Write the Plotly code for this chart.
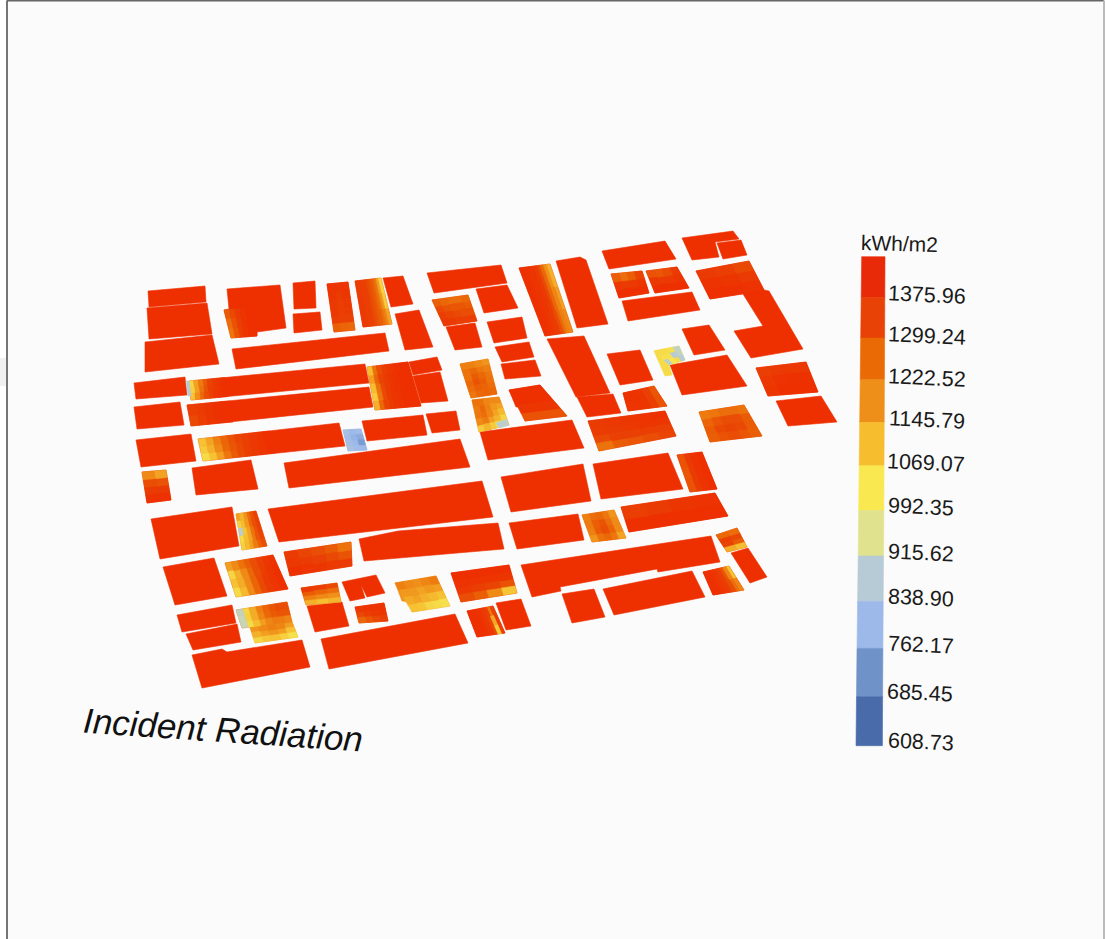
import plotly.graph_objects as go

# Legend
LEGEND_VALUES = [1452.68, 1375.96, 1299.24, 1222.52, 1145.79, 1069.07, 992.35, 915.62, 838.90, 762.17, 685.45, 608.73]
TICK_LABELS = ["1375.96", "1299.24", "1222.52", "1145.79", "1069.07", "992.35", "915.62", "838.90", "762.17", "685.45", "608.73"]
TICK_CX = [926.5, 926.5, 926.5, 927, 926, 921, 921, 921, 921, 920, 921]
TICK_CY = [294.5, 335.5, 377.5, 419.5, 462.5, 506.5, 552.5, 597.5, 644.5, 692.5, 741.5]
BAND_COLORS = ["#e92a08", "#e84207", "#ea6a05", "#ee8f1a", "#f6bd2f", "#f9e850", "#e0e28e", "#b6cbd5", "#9db9ea", "#6f92c8", "#496ba9"]
BAND_Y = [256.7, 297.4, 338, 379.8, 422.6, 465.7, 510.5, 556, 601.6, 648.4, 696.7, 745.7]
BAND_LEFT = [861.7, 861.2, 860.7, 860.2, 859.7, 859.2, 858.7, 858.2, 857.6, 857.0, 856.5, 856.0]
BAND_RIGHT = [885, 884.8, 884.6, 884.4, 884.2, 884.0, 883.8, 883.5, 883.2, 882.9, 882.6, 882.4]

# Colour anchors for a roof value (brightest red first)
COLOR_VALUES = [1400, 1330, 1260, 1190, 1110, 1040, 980, 900, 830, 760, 680, 610]
COLOR_STOPS = ["#ee2f00", "#ea4005", "#ea5f05", "#ee8012", "#f3a825", "#f6c535", "#f6e552", "#e0e28e", "#b6cbd5", "#9db9ea", "#6f92c8", "#496ba9"]

HOT = 1400
# Roof outlines: outline points, mean radiation
ROOFS = {
 "A": ([(148,291),(205,286),(206,302),(149,307)], HOT),
 "B": ([(147,308),(207,303),(212,334),(149,339)], HOT),
 "C": ([(145,342),(212,335),(219,364),(145,372)], HOT),
 "D": ([(227,289),(280,285),(286,328),(257,332),(257,336),(231,338),(224,310),(229,309)], HOT),
 "E": ([(293,283),(315,281),(316,308),(294,309)], HOT),
 "F": ([(293,314),(320,312),(322,330),(294,333)], HOT),
 "G": ([(327,284),(348,282),(355,330),(334,332)], 1370),
 "H": ([(355,281),(381,278),(392,324),(363,327)], 1350),
 "I": ([(383,278),(403,276),(413,304),(391,307)], HOT),
 "J": ([(395,314),(419,310),(433,347),(405,350)], HOT),
 "K": ([(232,349),(385,333),(389,351),(236,369)], HOT),
 "L": ([(134,383),(185,377),(187,395),(136,399)], HOT),
 "M": ([(189,381),(365,364),(369,383),(191,400)], HOT),
 "N": ([(187,405),(369,387),(373,407),(191,426)], HOT),
 "O": ([(367,367),(408,362),(421,406),(375,410)], HOT),
 "P": ([(409,362),(437,357),(442,370),(413,375)], HOT),
 "Q": ([(413,376),(440,372),(448,401),(421,403)], HOT),
 "R": ([(134,407),(180,402),(184,425),(137,429)], HOT),
 "S": ([(198,439),(339,423),(345,446),(203,461)], HOT),
 "T": ([(343,430),(361,429),(367,450),(348,451)], 770),
 "U": ([(362,421),(423,415),(427,435),(367,441)], HOT),
 "V": ([(426,414),(456,411),(460,430),(432,433)], HOT),
 "W": ([(136,440),(191,434),(196,461),(141,467)], HOT),
 "X": ([(284,463),(460,439),(470,467),(289,488)], HOT),
 "Y": ([(192,468),(251,460),(258,489),(196,495)], HOT),
 "Z": ([(142,472),(166,470),(171,500),(147,503)], 1370),
 "a": ([(427,273),(501,265),(507,283),(434,293)], HOT),
 "b": ([(476,289),(507,285),(518,308),(484,313)], HOT),
 "c": ([(432,300),(468,295),(477,321),(444,326)], 1300),
 "d": ([(446,327),(475,323),(482,347),(455,350)], HOT),
 "e": ([(487,322),(522,317),(527,338),(494,343)], HOT),
 "f": ([(495,347),(529,342),(534,357),(502,362)], HOT),
 "g": ([(501,364),(535,360),(541,376),(505,379)], HOT),
 "h": ([(460,364),(488,359),(497,394),(471,398)], 1220),
 "i": ([(472,400),(499,397),(509,425),(479,432)], 1180),
 "j": ([(519,268),(550,264),(573,332),(545,336)], 1370),
 "k": ([(556,261),(580,257),(586,260),(608,324),(577,328)], HOT),
 "l": ([(602,251),(665,241),(676,259),(609,269)], HOT),
 "m": ([(611,274),(642,271),(649,293),(619,298)], HOT),
 "n": ([(646,271),(677,267),(689,288),(655,293)], HOT),
 "o": ([(622,301),(692,292),(700,310),(628,321)], HOT),
 "p": ([(682,238),(733,231),(739,239),(715,242),(719,257),(692,260)], HOT),
 "q": ([(717,243),(741,240),(747,255),(723,259)], HOT),
 "r": ([(696,271),(749,261),(764,290),(769,291),(803,349),(751,358),(734,331),(763,326),(743,294),(710,299)], HOT),
 "s": ([(547,339),(584,336),(610,393),(576,397)], HOT),
 "t": ([(577,397),(613,394),(621,413),(587,417)], HOT),
 "u": ([(607,354),(640,350),(653,380),(620,385)], HOT),
 "v": ([(623,393),(654,386),(667,406),(628,411)], HOT),
 "w": ([(654,351),(679,346),(685,360),(669,365),(672,375),(665,376)], 1000),
 "x": ([(682,329),(709,325),(725,350),(694,355)], HOT),
 "y": ([(670,365),(727,355),(747,386),(682,395)], HOT),
 "z": ([(756,368),(806,362),(818,392),(768,396)], HOT),
 "aa": ([(776,401),(821,396),(837,422),(788,426)], HOT),
 "ab": ([(699,412),(744,405),(762,436),(710,442)], 1280),
 "ac": ([(509,390),(540,385),(567,416),(525,421),(520,407),(516,407)], HOT),
 "ad": ([(480,432),(572,420),(584,448),(488,460)], HOT),
 "ae": ([(588,421),(665,411),(676,436),(599,451)], 1370),
 "af": ([(593,464),(668,453),(683,489),(601,499)], HOT),
 "ag": ([(677,455),(702,452),(717,489),(690,492)], HOT),
 "ah": ([(501,477),(583,464),(591,501),(511,512)], HOT),
 "ai": ([(509,523),(578,514),(584,540),(517,549)], HOT),
 "aj": ([(582,515),(614,510),(626,538),(592,542)], 1250),
 "ak": ([(621,507),(715,493),(728,516),(629,532)], HOT),
 "al": ([(521,565),(711,536),(720,562),(658,572),(657,569),(560,587),(561,591),(532,597)], HOT),
 "am": ([(451,573),(509,565),(517,593),(461,602)], HOT),
 "an": ([(562,594),(594,589),(605,617),(572,623)], HOT),
 "ao": ([(603,589),(692,571),(705,597),(614,615)], HOT),
 "ap": ([(703,572),(729,566),(744,590),(713,595)], HOT),
 "aq": ([(716,535),(737,528),(747,547),(727,552)], 1300),
 "ar": ([(731,553),(748,548),(767,577),(750,583)], HOT),
 "as": ([(467,611),(493,606),(505,633),(477,637)], HOT),
 "at": ([(496,603),(521,599),(531,626),(506,630)], HOT),
 "au": ([(151,519),(232,507),(239,546),(160,559)], HOT),
 "av": ([(236,514),(256,511),(267,546),(242,550)], 1200),
 "aw": ([(268,509),(482,481),(493,517),(279,542)], HOT),
 "ax": ([(359,539),(398,531),(498,523),(504,549),(364,561)], HOT),
 "ay": ([(284,552),(351,542),(352,566),(290,576)], 1350),
 "az": ([(163,567),(214,558),(227,596),(175,605)], HOT),
 "ba": ([(225,563),(273,555),(288,589),(236,597)], 1300),
 "bb": ([(177,615),(232,605),(236,623),(182,632)], HOT),
 "bc": ([(186,634),(237,624),(241,642),(193,650)], HOT),
 "bd": ([(236,610),(287,602),(292,622),(242,628)], 1250),
 "be": ([(250,627),(292,622),(298,637),(255,643)], 1120),
 "bf": ([(192,655),(222,649),(227,652),(302,640),(310,667),(202,688)], HOT),
 "bg": ([(301,588),(337,583),(341,602),(306,605)], 1300),
 "bh": ([(307,606),(342,602),(349,626),(315,632)], HOT),
 "bi": ([(342,582),(376,575),(385,593),(367,597),(361,585),(365,598),(350,601)], HOT),
 "bj": ([(355,607),(384,603),(388,621),(359,623)], 1340),
 "bk": ([(395,583),(436,576),(450,606),(412,612),(409,602),(402,601)], 1150),
 "bn": ([(321,639),(455,614),(468,643),(329,669)], HOT),
}

# Analysis grids over a part of a roof: top-left, top-right, bottom-right, bottom-left, rows of values
GRIDS = [
 ([(224,310),(256,307),(257,336),(231,338)], [[1270,1310,1350,1380,1395,1400],[1230,1290,1340,1375,1395,1400],[1210,1280,1340,1375,1395,1400]]),
 ([(327,284),(348,282),(355,330),(334,332)], [[1380,1370,1380],[1370,1350,1370],[1360,1340,1360],[1360,1340,1350],[1340,1330,1330],[1260,1250,1240]]),
 ([(355,281),(381,278),(392,324),(363,327)], [[1340,1340,1340,1330,1310,1290,1260,1220,1130,1010],[1350,1350,1340,1330,1310,1290,1260,1220,1150,1030],[1360,1350,1340,1330,1310,1290,1260,1230,1190,1120]]),
 ([(189,381),(225,377.5),(228,396.5),(191,400)], [[1010,1120,1200,1270,1320,1350,1370,1390],[1020,1130,1220,1290,1330,1360,1380,1395],[1040,1160,1240,1300,1340,1370,1385,1395]]),
 ([(187,405),(230,401),(233,422),(191,426)], [[1330,1350,1370,1390,1400],[1310,1340,1370,1390,1400]]),
 ([(198,439),(270,431),(275,453),(203,461)], [[1050,1120,1190,1250,1290,1320,1340,1360,1380,1395],[1030,1090,1170,1240,1280,1310,1340,1360,1380,1395],[1000,1050,1130,1210,1270,1310,1340,1360,1380,1395]]),
 ([(367,367),(408,362),(421,406),(375,410)], [[1060,1220,1300,1340,1360,1380,1390,1395,1400],[1130,1250,1320,1350,1370,1385,1395,1400,1400],[1060,1220,1310,1350,1370,1385,1395,1400,1400],[1030,1210,1310,1350,1370,1385,1395,1400,1400],[1090,1240,1320,1350,1370,1385,1395,1400,1400]]),
 ([(432,300),(468,295),(477,321),(444,326)], [[1260,1240,1230,1230,1240],[1310,1290,1280,1280,1270],[1340,1320,1310,1300,1300],[1360,1350,1340,1340,1340]]),
 ([(460,364),(488,359),(497,394),(471,398)], [[1190,1190,1170,1150],[1220,1240,1210,1190],[1220,1270,1240,1210],[1240,1290,1260,1220],[1230,1260,1250,1230],[1210,1240,1250,1240]]),
 ([(472,400),(499,397),(509,425),(479,432)], [[1220,1220,1180,1170,1170],[1200,1240,1190,1140,1120],[1210,1230,1180,1120,1070],[1170,1200,1130,1080,1010],[1030,1080,1030,990,850]]),
 ([(519,268),(550,264),(573,332),(545,336)], [[1395,1390,1380,1370,1350,1310,1240,1160,1090],[1395,1390,1380,1370,1350,1310,1240,1180,1130],[1395,1390,1380,1365,1345,1300,1240,1190,1170]]),
 ([(611,274),(642,271),(649,293),(619,298)], [[1260,1230,1260,1320],[1360,1350,1360,1370],[1400,1395,1395,1400]]),
 ([(646,271),(677,267),(689,288),(655,293)], [[1290,1280,1300,1350],[1360,1350,1360,1370],[1400,1395,1395,1400]]),
 ([(696,271),(749,261),(764,290),(710,299)], [[1350,1340,1310],[1385,1370,1350],[1400,1395,1385]]),
 ([(756,368),(806,362),(818,392),(768,396)], [[1340,1350,1360,1360],[1360,1385,1390,1390],[1370,1395,1400,1400]]),
 ([(699,412),(744,405),(762,436),(710,442)], [[1200,1210,1230,1230,1220],[1250,1280,1300,1300,1270],[1270,1310,1320,1310,1270],[1260,1290,1300,1280,1260]]),
 ([(588,421),(665,411),(676,436),(599,451)], [[1350,1360,1370,1380,1390],[1345,1350,1360,1370,1375],[1310,1330,1335,1340,1330],[1220,1270,1280,1300,1320]]),
 ([(509,390),(540,385),(567,416),(525,421)], [[1400],[1400],[1370],[1290]]),
 ([(623,393),(654,386),(667,406),(628,411)], [[1390,1385,1370,1330,1280],[1380,1380,1370,1340,1290]]),
 ([(677,455),(702,452),(717,489),(690,492)], [[1290,1350,1385,1400],[1280,1350,1385,1400],[1290,1350,1385,1400]]),
 ([(582,515),(614,510),(626,538),(592,542)], [[1190,1230,1240,1210,1150],[1200,1260,1290,1230,1170],[1190,1270,1300,1250,1170],[1150,1220,1240,1210,1120]]),
 ([(621,507),(715,493),(728,516),(629,532)], [[1340,1350,1370,1385],[1395,1395,1400,1400]]),
 ([(716,535),(737,528),(747,547),(727,552)], [[1240,1230],[1330,1310],[1320,1270],[1100,1060]]),
 ([(703,572),(729,566),(744,590),(713,595)], [[1395,1390,1375,1360,1330,1280,1180,1050],[1395,1390,1380,1360,1340,1300,1230,1180]]),
 ([(467,611),(493,606),(505,633),(477,637)], [[1400,1400,1390,1380,1360,1330,1210,1320],[1400,1400,1390,1380,1360,1320,1110,1350],[1400,1400,1390,1380,1360,1310,1030,1340]]),
 ([(451,573),(509,565),(517,593),(461,602)], [[1400,1395,1395,1395],[1385,1380,1380,1370],[1360,1340,1320,1290],[1300,1260,1170,1040]]),
 ([(142,472),(166,470),(171,500),(147,503)], [[1170,1120],[1300,1290],[1350,1350],[1390,1390]]),
 ([(236,514),(256,511),(267,546),(242,550)], [[1130,1080,1150,1230,1290,1330],[1020,1060,1140,1240,1300,1340],[840,1040,1120,1220,1290,1330],[1000,1060,1120,1210,1280,1320],[1020,1070,1130,1200,1260,1300]]),
 ([(284,552),(351,542),(352,566),(290,576)], [[1350,1320,1300,1270,1220],[1365,1350,1330,1310,1290],[1395,1380,1370,1355,1350]]),
 ([(225,563),(273,555),(288,589),(236,597)], [[1130,1170,1220,1260,1300,1330,1360,1385],[1010,1090,1170,1240,1300,1340,1370,1395],[1050,1100,1170,1250,1310,1350,1380,1395],[1000,1070,1170,1250,1310,1350,1380,1395]]),
 ([(236,610),(287,602),(292,622),(242,628)], [[850,1010,1100,1190,1250,1280,1300,1300],[860,1020,1100,1180,1240,1270,1280,1280],[860,1000,1060,1130,1180,1200,1200,1180]]),
 ([(250,627),(292,622),(298,637),(255,643)], [[1150,1170,1190,1180,1130],[1090,1130,1150,1130,1050],[1010,1040,1050,1020,990]]),
 ([(301,588),(337,583),(341,602),(306,605)], [[1350,1340,1310],[1270,1250,1230],[1190,1170,1160],[1090,1060,1080]]),
 ([(355,607),(384,603),(388,621),(359,623)], [[1360,1380,1385,1385],[1310,1340,1360,1370],[1240,1280,1310,1330]]),
 ([(395,583),(436,576),(450,606),(412,612)], [[1190,1170,1160,1180,1200],[1140,1140,1120,1140,1130],[1100,1120,1090,1070,1050],[1050,1040,1010,1000,990]]),
 ([(654,351),(679,346),(685,360),(669,365)], [[1000,1000,990,850],[990,990,830,850],[840,980,1000,830]]),
 ([(343,430),(361,429),(367,450),(348,451)], [[790,760,770],[770,750,730],[780,760,700],[790,770,760]]),
 ([(186,381),(189,381),(191,396),(188,396)], [[830],[830]]),
 ([(496,423),(503,421),(509,425),(499,428)], [[840]]),
]

FRAME_X = [7, 7, 1104, 1104]
FRAME_Y = [939, 0.5, 0.5, 939]
UNIT = "kWh/m2"
TITLE = "Incident Radiation"


def hex_rgb(h):
    return tuple(int(h[i:i + 2], 16) for i in (1, 3, 5))


def color_of(v):
    if v >= COLOR_VALUES[0]:
        return COLOR_STOPS[0]
    if v <= COLOR_VALUES[-1]:
        return COLOR_STOPS[-1]
    for i in range(len(COLOR_VALUES) - 1):
        hi, lo = COLOR_VALUES[i], COLOR_VALUES[i + 1]
        if lo <= v <= hi:
            t = (hi - v) / (hi - lo)
            a, b = hex_rgb(COLOR_STOPS[i]), hex_rgb(COLOR_STOPS[i + 1])
            return "#%02x%02x%02x" % tuple(round(a[k] + (b[k] - a[k]) * t) for k in range(3))


def add_poly(fig, xs, ys, color):
    fig.add_trace(go.Scatter(x=xs, y=ys, mode="lines", fill="toself", fillcolor=color,
                             line=dict(color=color, width=0.6), hoverinfo="skip", showlegend=False))


def collect(groups, pts, v):
    c = color_of(v)
    g = groups.setdefault(c, ([], []))
    g[0].extend([p[0] for p in pts] + [pts[0][0], None])
    g[1].extend([p[1] for p in pts] + [pts[0][1], None])


def lerp(a, b, t):
    return (a[0] + (b[0] - a[0]) * t, a[1] + (b[1] - a[1]) * t)


fig = go.Figure()

base = {}
for pts, v in ROOFS.values():
    collect(base, pts, v)
for c, (xs, ys) in base.items():
    add_poly(fig, xs, ys, c)

cells = {}
for (tl, tr, br, bl), rows in GRIDS:
    nr = len(rows)
    for r, row in enumerate(rows):
        nc = len(row)
        for k, v in enumerate(row):
            t0, t1 = r / nr, (r + 1) / nr
            s0, s1 = k / nc, (k + 1) / nc
            l0, l1 = lerp(tl, bl, t0), lerp(tl, bl, t1)
            e0, e1 = lerp(tr, br, t0), lerp(tr, br, t1)
            collect(cells, [lerp(l0, e0, s0), lerp(l0, e0, s1), lerp(l1, e1, s1), lerp(l1, e1, s0)], v)
for c, (xs, ys) in cells.items():
    add_poly(fig, xs, ys, c)

for i, col in enumerate(BAND_COLORS):
    add_poly(fig, [BAND_LEFT[i], BAND_RIGHT[i], BAND_RIGHT[i + 1], BAND_LEFT[i + 1], BAND_LEFT[i]],
             [BAND_Y[i], BAND_Y[i], BAND_Y[i + 1], BAND_Y[i + 1], BAND_Y[i]], col)

FONT = "Liberation Sans"
for lab, cx, cy in zip(TICK_LABELS, TICK_CX, TICK_CY):
    fig.add_annotation(x=cx, y=cy, text=lab, showarrow=False, textangle=2.5, xanchor="center", yanchor="middle",
                       font=dict(family=FONT, size=21.5, color="#1a1a1a"))
fig.add_annotation(x=899.5, y=243, text=UNIT, showarrow=False, textangle=1.5, xanchor="center", yanchor="middle",
                   font=dict(family=FONT, size=21, color="#1a1a1a"))
fig.add_annotation(x=222.5, y=729, text="<i>%s</i>" % TITLE, showarrow=False, textangle=3.9, xanchor="center", yanchor="middle",
                   font=dict(family=FONT, size=35, color="#111111"))

shapes = [
    dict(type="rect", xref="x", yref="y", x0=FRAME_X[0], x1=FRAME_X[2], y0=0, y1=939, fillcolor="#fbfbfb", line=dict(width=0), layer="below"),
    dict(type="line", xref="x", yref="y", x0=FRAME_X[0], x1=FRAME_X[1], y0=FRAME_Y[0], y1=FRAME_Y[1], line=dict(color="#757575", width=2)),
    dict(type="line", xref="x", yref="y", x0=FRAME_X[1], x1=FRAME_X[2], y0=FRAME_Y[1], y1=FRAME_Y[2], line=dict(color="#666666", width=2)),
    dict(type="line", xref="x", yref="y", x0=FRAME_X[2], x1=FRAME_X[3], y0=FRAME_Y[2], y1=FRAME_Y[3], line=dict(color="#bbbbbb", width=2)),
    dict(type="rect", xref="x", yref="y", x0=0, x1=6, y0=358, y1=386, fillcolor="#f1f1f1", line=dict(width=0), layer="below"),
]
fig.update_layout(width=1105, height=939, margin=dict(l=0, r=0, t=0, b=0), paper_bgcolor="#ffffff", plot_bgcolor="#ffffff",
                  showlegend=False, shapes=shapes,
                  xaxis=dict(range=[0, 1105], visible=False, fixedrange=True),
                  yaxis=dict(range=[939, 0], visible=False, fixedrange=True))
fig.write_html("out.html", config={"displayModeBar": False},
               post_script="document.body.style.margin='0';document.body.style.overflow='hidden';")
